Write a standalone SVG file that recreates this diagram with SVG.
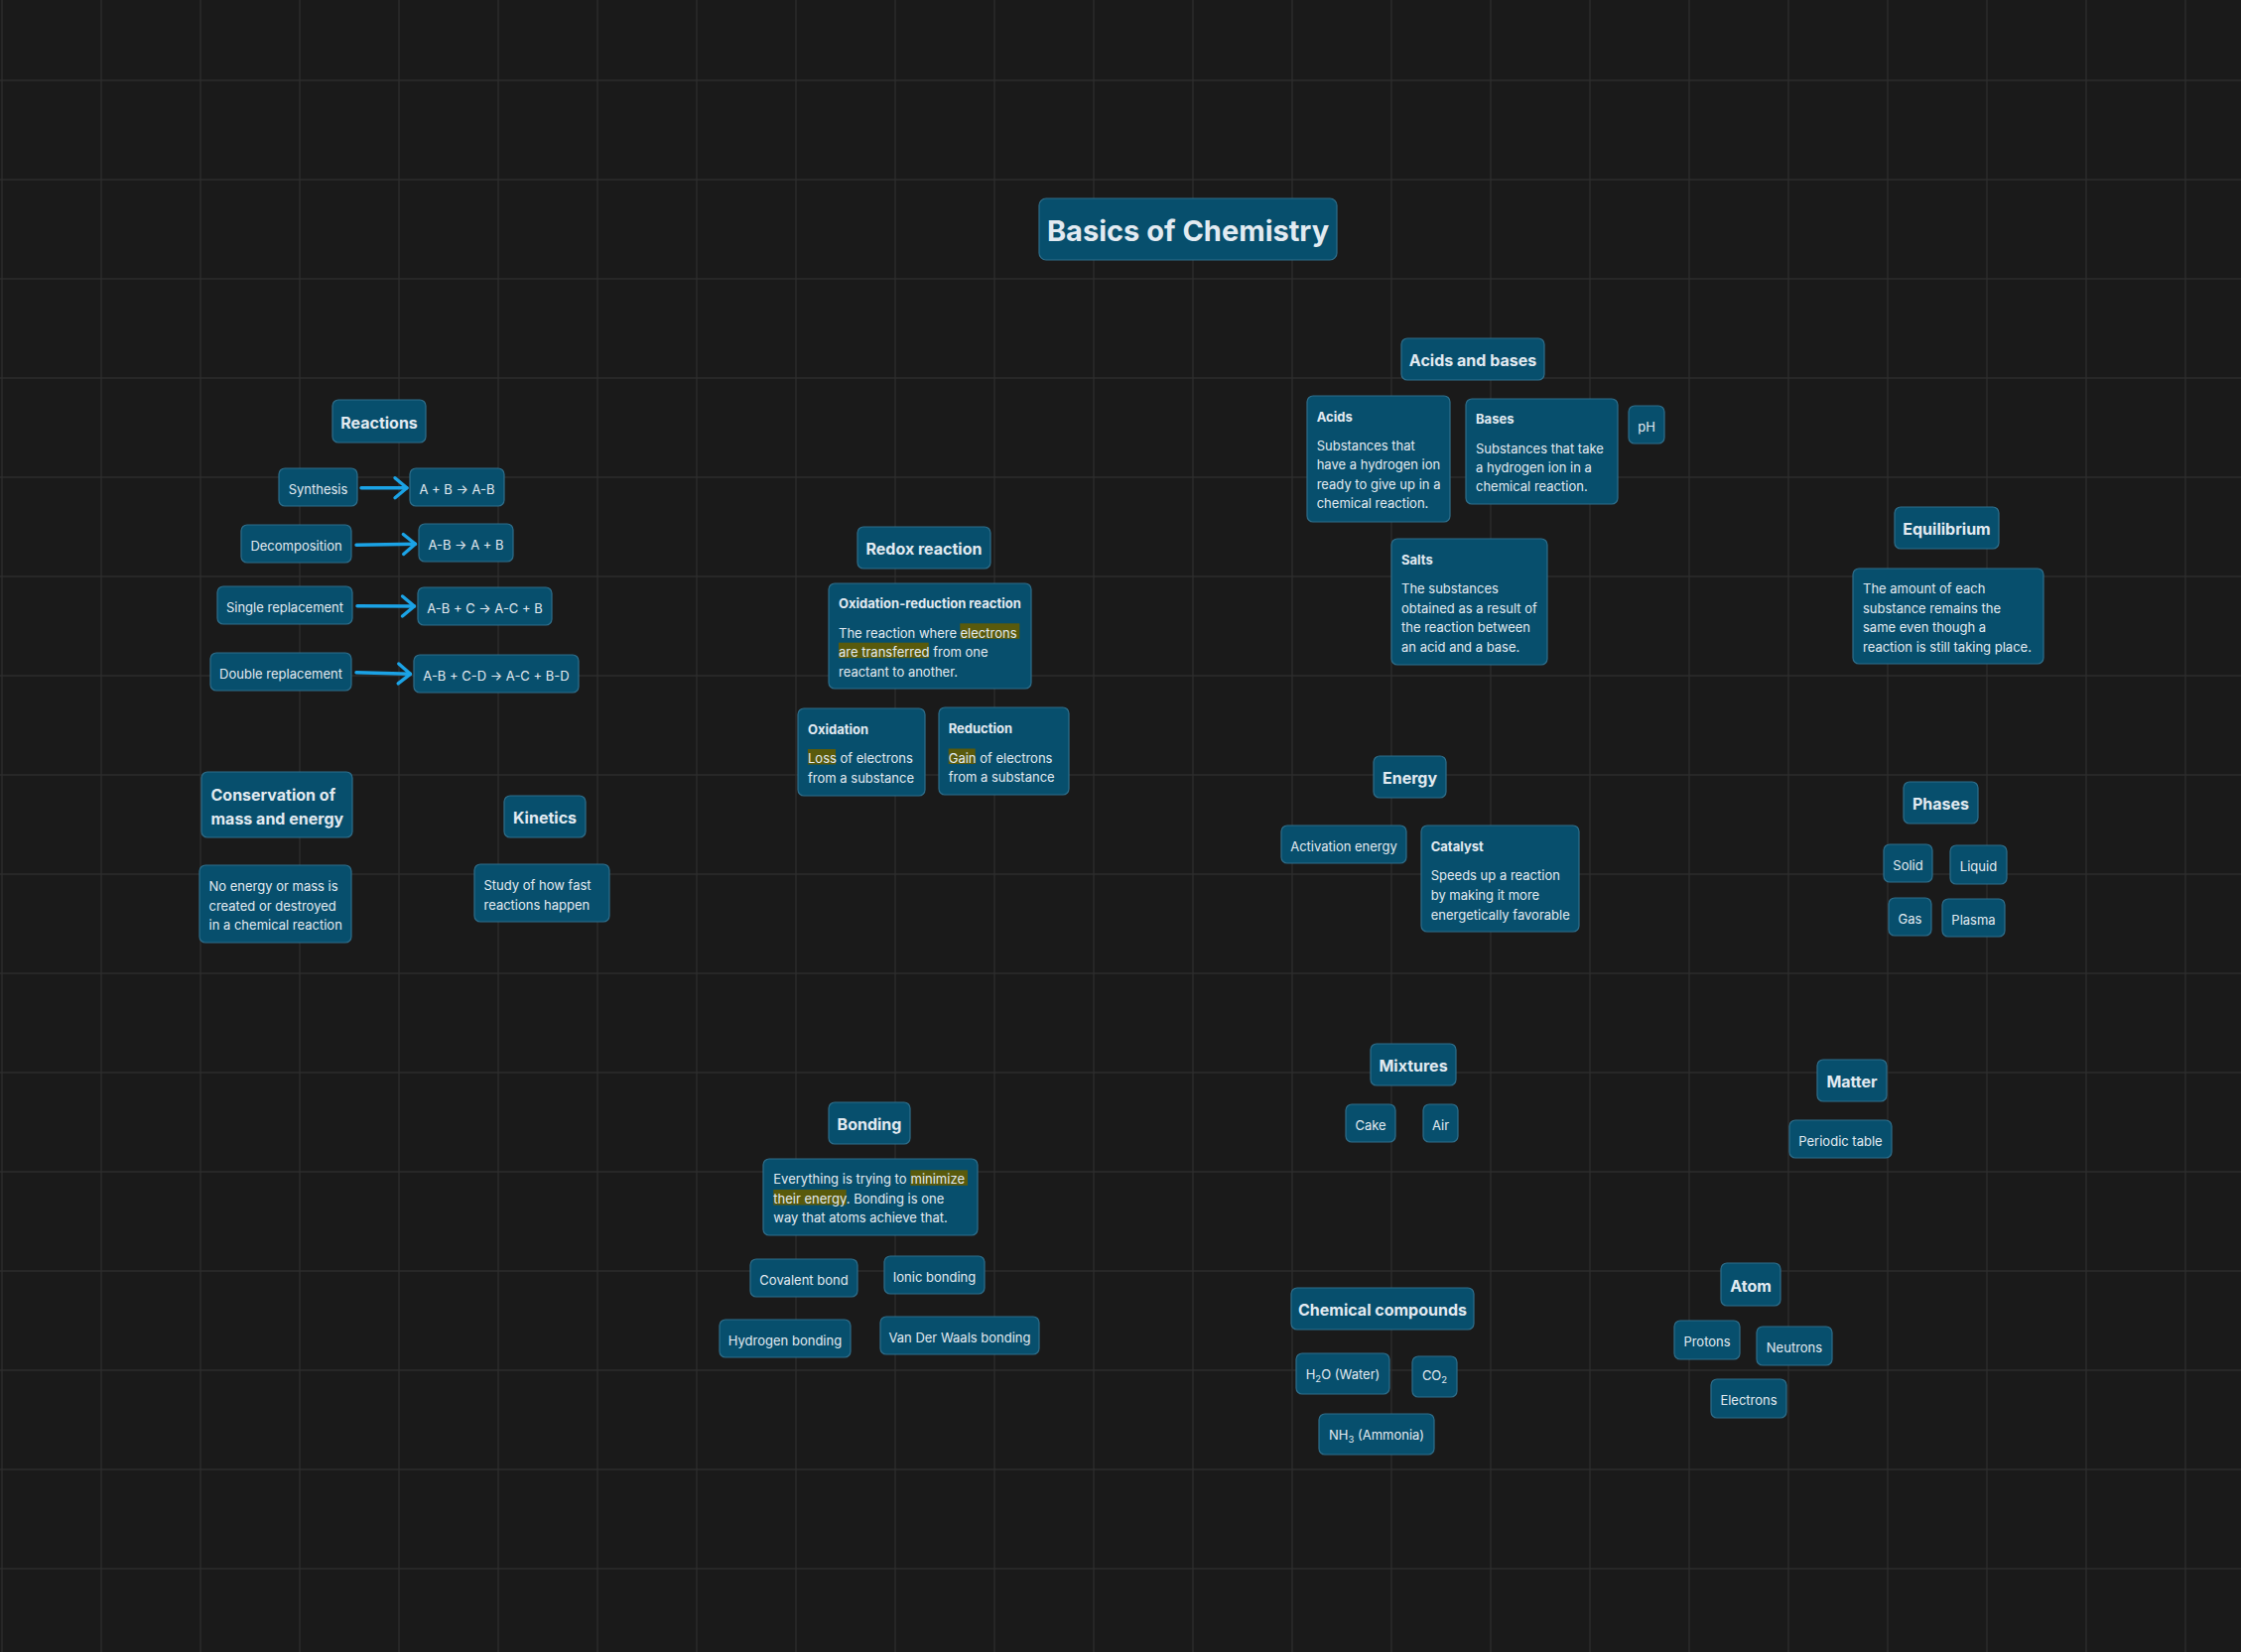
<svg xmlns="http://www.w3.org/2000/svg" width="2258" height="1665" viewBox="0 0 2258 1665">
  <defs>
    <style>
      .bg{fill:#1a1a1a}
      .grid{stroke:#2d2d2d;stroke-width:1.3;fill:none}
      .n rect{fill:#074f6d;stroke:#2f6e8b;stroke-width:1.2}
      .n rect.hl{fill:#595a0c;stroke:none}
      text{font-family:Inter,"Noto Sans",sans-serif;fill:#e2eaf1;transform:translateY(1px)}
      .title{font-size:29px;font-weight:700;text-anchor:middle}
      .h{font-size:16px;font-weight:700;text-anchor:middle}
      .hl-left{font-size:16px;font-weight:700}
      .s{font-size:13px;text-anchor:middle}
      .b{font-size:13px}
      .st{font-size:13px;font-weight:700}
      .sub{font-size:9.5px}
      .link{stroke:#1ba3e6;stroke-width:3.4;fill:none;stroke-linecap:round}
    </style>
    <marker id="chev" viewBox="-3 -3 18 26" refX="12" refY="10" markerUnits="userSpaceOnUse" markerWidth="18" markerHeight="26" orient="auto">
      <path d="M0,0 L12,10 L0,20" fill="none" stroke="#1ba3e6" stroke-width="3.4" stroke-linecap="round" stroke-linejoin="round"/>
    </marker>
  </defs>

  <!-- canvas and background grid -->
  <rect class="bg" x="0" y="0" width="2258" height="1665"/>
  <path class="grid" d="M2 0V1665M102 0V1665M202 0V1665M302 0V1665M402 0V1665M502 0V1665M602 0V1665M702 0V1665M802 0V1665M902 0V1665M1002 0V1665M1102 0V1665M1202 0V1665M1302 0V1665M1402 0V1665M1502 0V1665M1602 0V1665M1702 0V1665M1802 0V1665M1902 0V1665M2002 0V1665M2102 0V1665M2202 0V1665M0 81H2258M0 181H2258M0 281H2258M0 381H2258M0 481H2258M0 581H2258M0 681H2258M0 781H2258M0 881H2258M0 981H2258M0 1081H2258M0 1181H2258M0 1281H2258M0 1381H2258M0 1481H2258M0 1581H2258"/>

  <!-- connectors -->
  <g id="connectors">
    <path class="link" d="M364 491.7L410 491.7" marker-end="url(#chev)"/>
    <path class="link" d="M359 549.3L418.5 548.3" marker-end="url(#chev)"/>
    <path class="link" d="M360 610.7L417.5 611" marker-end="url(#chev)"/>
    <path class="link" d="M359 677.7L413.5 679.3" marker-end="url(#chev)"/>
  </g>

  <!-- title -->
  <g id="title" class="n"><rect x="1047" y="200" width="300" height="62" rx="7"/><text class="title" x="1197" y="241.5">Basics of Chemistry</text></g>

  <!-- Reactions -->
  <g id="reactions" class="n"><rect x="335" y="403" width="94" height="43" rx="6"/><text class="h" x="382" y="430.5">Reactions</text></g>
  <g id="synthesis" class="n"><rect x="281" y="472" width="79" height="38" rx="6"/><text class="s" x="320.5" y="496.5">Synthesis</text></g>
  <g id="synthesis-eq" class="n"><rect x="413" y="472" width="95" height="38" rx="6"/><text class="s" x="460.5" y="496.5">A + B → A-B</text></g>
  <g id="decomposition" class="n"><rect x="243" y="529" width="111" height="38" rx="6"/><text class="s" x="298.5" y="553.5">Decomposition</text></g>
  <g id="decomposition-eq" class="n"><rect x="422" y="528" width="95" height="38" rx="6"/><text class="s" x="469.5" y="552.5">A-B → A + B</text></g>
  <g id="single" class="n"><rect x="219" y="591" width="136" height="38" rx="6"/><text class="s" x="287" y="615.5">Single replacement</text></g>
  <g id="single-eq" class="n"><rect x="421" y="592" width="135" height="38" rx="6"/><text class="s" x="488.5" y="616.5">A-B + C → A-C + B</text></g>
  <g id="double" class="n"><rect x="212" y="658" width="142" height="38" rx="6"/><text class="s" x="283" y="682.5">Double replacement</text></g>
  <g id="double-eq" class="n"><rect x="417" y="660" width="166" height="38" rx="6"/><text class="s" x="500" y="684.5">A-B + C-D → A-C + B-D</text></g>

  <!-- Conservation and kinetics -->
  <g id="conservation" class="n"><rect x="203" y="778" width="152" height="66" rx="6"/><text class="hl-left" x="212.5" y="806">Conservation of</text><text class="hl-left" x="212.5" y="829.5">mass and energy</text></g>
  <g id="conservation-def" class="n"><rect x="201" y="872" width="153" height="78" rx="6"/><text class="b" x="210.5"><tspan x="210.5" y="897">No energy or mass is</tspan><tspan x="210.5" y="916.5">created or destroyed</tspan><tspan x="210.5" y="936">in a chemical reaction</tspan></text></g>
  <g id="kinetics" class="n"><rect x="508" y="802" width="82" height="42" rx="6"/><text class="h" x="549" y="829">Kinetics</text></g>
  <g id="kinetics-def" class="n"><rect x="478" y="871" width="136" height="58" rx="6"/><text class="b"><tspan x="487.5" y="896">Study of how fast</tspan><tspan x="487.5" y="915.5">reactions happen</tspan></text></g>

  <!-- Redox -->
  <g id="redox" class="n"><rect x="864" y="531" width="134" height="42" rx="6"/><text class="h" x="931" y="558">Redox reaction</text></g>
  <g id="redox-def" class="n"><rect x="835" y="588" width="204" height="106" rx="6"/>
    <rect class="hl" x="967.3" y="628.3" width="60" height="15.5"/>
    <rect class="hl" x="845" y="647.7" width="90.7" height="15.5"/>
    <text class="st" x="845" y="612">Oxidation-reduction reaction</text>
    <text class="b"><tspan x="845" y="641.7">The reaction where </tspan><tspan x="967.5">electrons</tspan><tspan x="845" y="661">are transferred</tspan><tspan> from one</tspan><tspan x="845" y="680.5">reactant to another.</tspan></text>
  </g>
  <g id="oxidation" class="n"><rect x="804" y="714" width="128" height="88" rx="6"/>
    <rect class="hl" x="814" y="755" width="28" height="15.5"/>
    <text class="st" x="814" y="738.8">Oxidation</text>
    <text class="b"><tspan x="814" y="768.2">Loss</tspan><tspan> of electrons</tspan><tspan x="814" y="787.8">from a substance</tspan></text>
  </g>
  <g id="reduction" class="n"><rect x="946" y="713" width="131" height="88" rx="6"/>
    <rect class="hl" x="955.7" y="754.5" width="27" height="15.5"/>
    <text class="st" x="955.7" y="737.8">Reduction</text>
    <text class="b"><tspan x="955.7" y="767.8">Gain</tspan><tspan> of electrons</tspan><tspan x="955.7" y="787.2">from a substance</tspan></text>
  </g>

  <!-- Acids and bases -->
  <g id="acids-bases" class="n"><rect x="1412" y="341" width="144" height="42" rx="6"/><text class="h" x="1484" y="368">Acids and bases</text></g>
  <g id="acids" class="n"><rect x="1317" y="399" width="144" height="127" rx="6"/>
    <text class="st" x="1326.7" y="423.5">Acids</text>
    <text class="b"><tspan x="1326.7" y="452.8">Substances that</tspan><tspan x="1326.7" y="472.2">have a hydrogen ion</tspan><tspan x="1326.7" y="491.8">ready to give up in a</tspan><tspan x="1326.7" y="511.4">chemical reaction.</tspan></text>
  </g>
  <g id="bases" class="n"><rect x="1477" y="402" width="153" height="106" rx="6"/>
    <text class="st" x="1487" y="425.5">Bases</text>
    <text class="b"><tspan x="1487" y="455.5">Substances that take</tspan><tspan x="1487" y="474.8">a hydrogen ion in a</tspan><tspan x="1487" y="494.2">chemical reaction.</tspan></text>
  </g>
  <g id="ph" class="n"><rect x="1641" y="409" width="36" height="38" rx="6"/><text class="s" x="1659" y="433.5">pH</text></g>
  <g id="salts" class="n"><rect x="1402" y="543" width="157" height="127" rx="6"/>
    <text class="st" x="1412" y="567.8">Salts</text>
    <text class="b"><tspan x="1412" y="597.2">The substances</tspan><tspan x="1412" y="616.8">obtained as a result of</tspan><tspan x="1412" y="636.2">the reaction between</tspan><tspan x="1412" y="655.5">an acid and a base.</tspan></text>
  </g>

  <!-- Equilibrium and phases -->
  <g id="equilibrium" class="n"><rect x="1909" y="511" width="105" height="42" rx="6"/><text class="h" x="1961.5" y="538">Equilibrium</text></g>
  <g id="equilibrium-def" class="n"><rect x="1867" y="573" width="192" height="96" rx="6"/>
    <text class="b"><tspan x="1877" y="596.8">The amount of each</tspan><tspan x="1877" y="616.5">substance remains the</tspan><tspan x="1877" y="636.2">same even though a</tspan><tspan x="1877" y="655.5">reaction is still taking place.</tspan></text>
  </g>
  <g id="phases" class="n"><rect x="1918" y="788" width="75" height="42" rx="6"/><text class="h" x="1955.5" y="815">Phases</text></g>
  <g id="solid" class="n"><rect x="1898" y="851" width="49" height="38" rx="6"/><text class="s" x="1922.5" y="875.5">Solid</text></g>
  <g id="liquid" class="n"><rect x="1965" y="852" width="57" height="39" rx="6"/><text class="s" x="1993.5" y="877">Liquid</text></g>
  <g id="gas" class="n"><rect x="1903" y="905" width="43" height="38" rx="6"/><text class="s" x="1924.5" y="929.5">Gas</text></g>
  <g id="plasma" class="n"><rect x="1957" y="906" width="63" height="38" rx="6"/><text class="s" x="1988.5" y="930.5">Plasma</text></g>

  <!-- Energy -->
  <g id="energy" class="n"><rect x="1384" y="762" width="73" height="42" rx="6"/><text class="h" x="1420.5" y="789">Energy</text></g>
  <g id="activation" class="n"><rect x="1291" y="832" width="126" height="38" rx="6"/><text class="s" x="1354" y="856.5">Activation energy</text></g>
  <g id="catalyst" class="n"><rect x="1432" y="832" width="159" height="107" rx="6"/>
    <text class="st" x="1441.7" y="856.8">Catalyst</text>
    <text class="b"><tspan x="1441.7" y="886.2">Speeds up a reaction</tspan><tspan x="1441.7" y="906">by making it more</tspan><tspan x="1441.7" y="925.5">energetically favorable</tspan></text>
  </g>

  <!-- Bonding -->
  <g id="bonding" class="n"><rect x="835" y="1111" width="82" height="42" rx="6"/><text class="h" x="876" y="1138">Bonding</text></g>
  <g id="bonding-def" class="n"><rect x="769" y="1168" width="216" height="77" rx="6"/>
    <rect class="hl" x="917.3" y="1179.3" width="57.7" height="15.5"/>
    <rect class="hl" x="779.3" y="1199" width="73.4" height="15.5"/>
    <text class="b"><tspan x="779.3" y="1192.2">Everything is trying to </tspan><tspan x="917.5">minimize</tspan><tspan x="779.3" y="1211.8">their energy</tspan><tspan>. Bonding is one</tspan><tspan x="779.3" y="1231.2">way that atoms achieve that.</tspan></text>
  </g>
  <g id="covalent" class="n"><rect x="756" y="1269" width="108" height="38" rx="6"/><text class="s" x="810" y="1293.5">Covalent bond</text></g>
  <g id="ionic" class="n"><rect x="891" y="1266" width="101" height="38" rx="6"/><text class="s" x="941.5" y="1290.5">Ionic bonding</text></g>
  <g id="hydrogen" class="n"><rect x="725" y="1330" width="132" height="38" rx="6"/><text class="s" x="791" y="1354.5">Hydrogen bonding</text></g>
  <g id="vanderwaals" class="n"><rect x="887" y="1327" width="160" height="38" rx="6"/><text class="s" x="967" y="1351.5">Van Der Waals bonding</text></g>

  <!-- Mixtures and compounds -->
  <g id="mixtures" class="n"><rect x="1381" y="1052" width="86" height="42" rx="6"/><text class="h" x="1424" y="1079">Mixtures</text></g>
  <g id="cake" class="n"><rect x="1356" y="1113" width="50" height="38" rx="6"/><text class="s" x="1381" y="1137.5">Cake</text></g>
  <g id="air" class="n"><rect x="1434" y="1113" width="35" height="38" rx="6"/><text class="s" x="1451.5" y="1137.5">Air</text></g>
  <g id="compounds" class="n"><rect x="1301" y="1298" width="184" height="42" rx="6"/><text class="h" x="1393" y="1325">Chemical compounds</text></g>
  <g id="water" class="n"><rect x="1306" y="1364" width="94" height="41" rx="6"/><text class="s" x="1353" y="1389">H<tspan class="sub" dy="3">2</tspan><tspan dy="-3">O (Water)</tspan></text></g>
  <g id="co2" class="n"><rect x="1423" y="1367" width="45" height="41" rx="6"/><text class="s" x="1445.5" y="1390">CO<tspan class="sub" dy="3">2</tspan></text></g>
  <g id="ammonia" class="n"><rect x="1329" y="1425" width="116" height="41" rx="6"/><text class="s" x="1387" y="1450">NH<tspan class="sub" dy="3">3</tspan><tspan dy="-3"> (Ammonia)</tspan></text></g>

  <!-- Matter and atom -->
  <g id="matter" class="n"><rect x="1831" y="1068" width="70" height="42" rx="6"/><text class="h" x="1866" y="1095">Matter</text></g>
  <g id="periodic" class="n"><rect x="1803" y="1129" width="103" height="38" rx="6"/><text class="s" x="1854.5" y="1153.5">Periodic table</text></g>
  <g id="atom" class="n"><rect x="1734" y="1273" width="60" height="43" rx="6"/><text class="h" x="1764" y="1300.5">Atom</text></g>
  <g id="protons" class="n"><rect x="1687" y="1331" width="66" height="39" rx="6"/><text class="s" x="1720" y="1356">Protons</text></g>
  <g id="neutrons" class="n"><rect x="1770" y="1337" width="76" height="39" rx="6"/><text class="s" x="1808" y="1362">Neutrons</text></g>
  <g id="electrons" class="n"><rect x="1724" y="1390" width="76" height="39" rx="6"/><text class="s" x="1762" y="1415">Electrons</text></g>
</svg>
